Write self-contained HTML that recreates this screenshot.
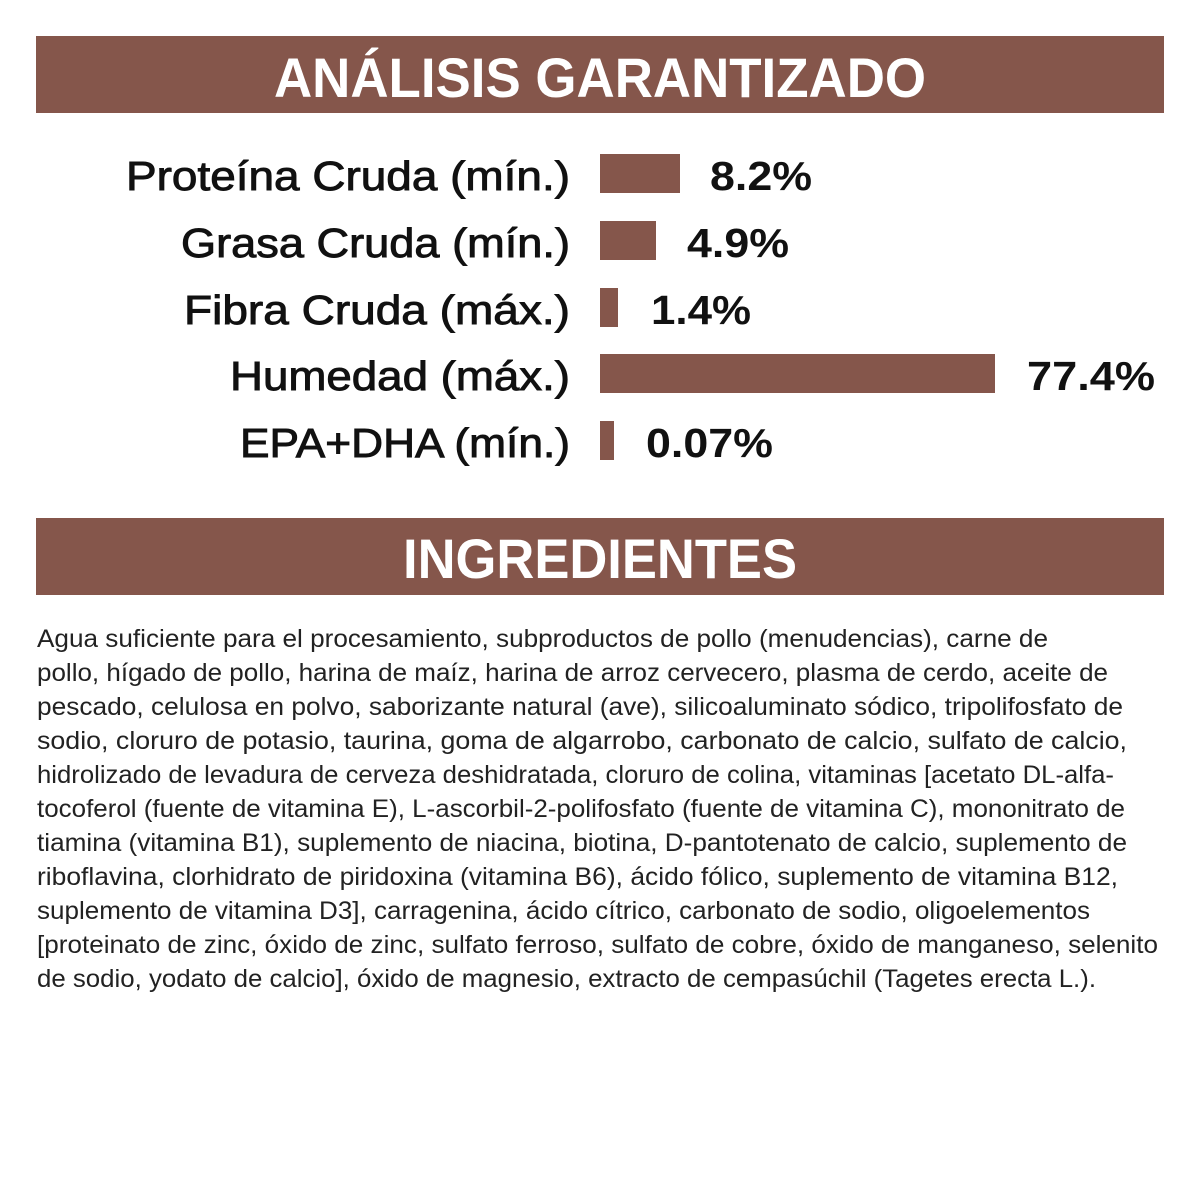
<!DOCTYPE html>
<html><head><meta charset="utf-8"><style>
html,body{margin:0;padding:0;background:#fff;}
svg{display:block;}
text{font-family:"Liberation Sans Narrow","Liberation Sans",sans-serif;}
</style></head><body>
<svg width="1200" height="1200" viewBox="0 0 1200 1200" xmlns="http://www.w3.org/2000/svg">
<rect x="36" y="36" width="1128" height="77" fill="#85564b"/>
<text x="274" y="97" font-size="56" font-weight="bold" fill="#fff" textLength="652" lengthAdjust="spacingAndGlyphs">ANÁLISIS GARANTIZADO</text>
<g font-size="41" fill="#111" stroke="#111" stroke-width="0.9" text-anchor="end">
<text x="570" y="190" textLength="444" lengthAdjust="spacingAndGlyphs">Proteína Cruda (mín.)</text>
<text x="570" y="257" textLength="389" lengthAdjust="spacingAndGlyphs">Grasa Cruda (mín.)</text>
<text x="570" y="324" textLength="386" lengthAdjust="spacingAndGlyphs">Fibra Cruda (máx.)</text>
<text x="570" y="390" textLength="340" lengthAdjust="spacingAndGlyphs">Humedad (máx.)</text>
<text x="570" y="457" textLength="330" lengthAdjust="spacingAndGlyphs">EPA+DHA (mín.)</text>
</g>
<g fill="#85564b">
<rect x="600" y="154" width="80" height="39"/>
<rect x="600" y="221" width="56" height="39"/>
<rect x="600" y="288" width="18" height="39"/>
<rect x="600" y="354" width="395" height="39"/>
<rect x="600" y="421" width="14" height="39"/>
</g>
<g font-size="41" font-weight="bold" fill="#111">
<text x="710" y="190" textLength="102" lengthAdjust="spacingAndGlyphs">8.2%</text>
<text x="687" y="257" textLength="102" lengthAdjust="spacingAndGlyphs">4.9%</text>
<text x="651" y="324" textLength="100" lengthAdjust="spacingAndGlyphs">1.4%</text>
<text x="1027" y="390" textLength="128" lengthAdjust="spacingAndGlyphs">77.4%</text>
<text x="646" y="457" textLength="127" lengthAdjust="spacingAndGlyphs">0.07%</text>
</g>
<rect x="36" y="518" width="1128" height="77" fill="#85564b"/>
<text x="403" y="578" font-size="56" font-weight="bold" fill="#fff" textLength="394" lengthAdjust="spacingAndGlyphs">INGREDIENTES</text>
<g font-size="25" fill="#222">
<text x="37" y="647" textLength="1011" lengthAdjust="spacingAndGlyphs">Agua suficiente para el procesamiento, subproductos de pollo (menudencias), carne de</text>
<text x="37" y="681" textLength="1071" lengthAdjust="spacingAndGlyphs">pollo, hígado de pollo, harina de maíz, harina de arroz cervecero, plasma de cerdo, aceite de</text>
<text x="37" y="715" textLength="1086" lengthAdjust="spacingAndGlyphs">pescado, celulosa en polvo, saborizante natural (ave), silicoaluminato sódico, tripolifosfato de</text>
<text x="37" y="749" textLength="1090" lengthAdjust="spacingAndGlyphs">sodio, cloruro de potasio, taurina, goma de algarrobo, carbonato de calcio, sulfato de calcio,</text>
<text x="37" y="783" textLength="1077" lengthAdjust="spacingAndGlyphs">hidrolizado de levadura de cerveza deshidratada, cloruro de colina, vitaminas [acetato DL-alfa-</text>
<text x="37" y="817" textLength="1088" lengthAdjust="spacingAndGlyphs">tocoferol (fuente de vitamina E), L-ascorbil-2-polifosfato (fuente de vitamina C), mononitrato de</text>
<text x="37" y="851" textLength="1090" lengthAdjust="spacingAndGlyphs">tiamina (vitamina B1), suplemento de niacina, biotina, D-pantotenato de calcio, suplemento de</text>
<text x="37" y="885" textLength="1081" lengthAdjust="spacingAndGlyphs">riboflavina, clorhidrato de piridoxina (vitamina B6), ácido fólico, suplemento de vitamina B12,</text>
<text x="37" y="919" textLength="1053" lengthAdjust="spacingAndGlyphs">suplemento de vitamina D3], carragenina, ácido cítrico, carbonato de sodio, oligoelementos</text>
<text x="37" y="953" textLength="1121" lengthAdjust="spacingAndGlyphs">[proteinato de zinc, óxido de zinc, sulfato ferroso, sulfato de cobre, óxido de manganeso, selenito</text>
<text x="37" y="987" textLength="1059" lengthAdjust="spacingAndGlyphs">de sodio, yodato de calcio], óxido de magnesio, extracto de cempasúchil (Tagetes erecta L.).</text>
</g>
</svg>
</body></html>
